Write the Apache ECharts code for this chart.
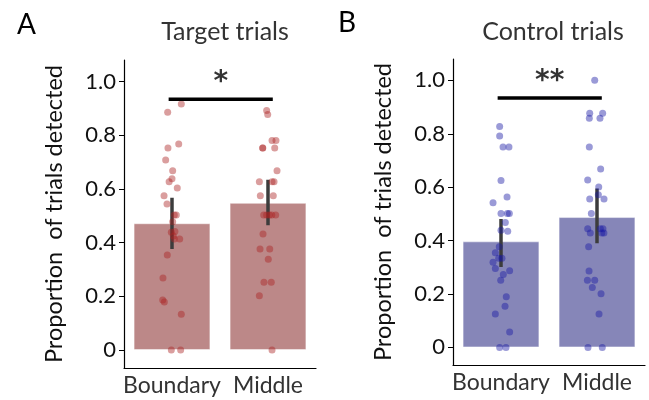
<!DOCTYPE html>
<html><head><meta charset="utf-8">
<script src="https://cdn.jsdelivr.net/npm/echarts@6/dist/echarts.min.js"></script>
<style>html,body{margin:0;padding:0;background:#fff}#c{width:649px;height:400px}</style>
</head><body><div id="c"></div>
<script>
const categories = ['Boundary', 'Middle'];
const panelTitles = ['Target trials', 'Control trials'];
const panelLetters = ['A', 'B'];
const yAxisName = 'Proportion  of trials detected';

const targetMeans = [0.472, 0.548];
const targetErrLow = [0.376, 0.465];
const targetErrHigh = [0.567, 0.634];
const controlMeans = [0.397, 0.488];
const controlErrLow = [0.301, 0.390];
const controlErrHigh = [0.481, 0.595];

const targetBoundaryY = [0.916,0.885,0.767,0.752,0.708,0.668,0.638,0.627,0.603,0.574,0.544,0.503,0.503,0.478,0.439,0.441,0.425,0.413,0.413,0.354,0.268,0.186,0.179,0.133,0,0];
const targetBoundaryX = [0.097,-0.045,0.07,-0.042,-0.066,0.007,0,-0.03,0.055,-0.083,-0.052,0.024,0.045,0.007,-0.007,0.03,0.014,0.024,0.08,-0.049,-0.094,-0.097,-0.08,0.097,-0.007,0.09];
const targetMiddleY = [0.892,0.877,0.780,0.780,0.752,0.752,0.752,0.668,0.627,0.627,0.627,0.574,0.574,0.503,0.503,0.503,0.503,0.503,0.432,0.376,0.376,0.338,0.252,0.252,0.202,0];
const targetMiddleX = [-0.014,-0.003,0.042,0.083,-0.055,-0.055,0.07,0.094,-0.09,0.042,0.063,-0.08,0.055,-0.045,-0.014,0.014,0.039,0.08,-0.052,-0.083,0.018,0.003,-0.042,0.034,-0.09,0.042];
const controlBoundaryY = [0.827,0.792,0.75,0.75,0.625,0.563,0.542,0.501,0.501,0.501,0.468,0.439,0.435,0.377,0.354,0.334,0.334,0.319,0.295,0.287,0.273,0.251,0.19,0.154,0.125,0.058,0,0];
const controlBoundaryX = [-0.014,-0.014,0.021,0.083,0,0.063,-0.083,0,0.066,0.087,0.045,0,0.07,-0.018,-0.059,-0.024,0.01,-0.083,-0.059,0.09,0.024,-0.003,0.055,0.042,-0.059,0.09,-0.014,0.052];
const controlMiddleY = [1.0,0.877,0.877,0.858,0.858,0.75,0.668,0.627,0.601,0.572,0.556,0.556,0.501,0.444,0.428,0.444,0.444,0.428,0.428,0.377,0.286,0.251,0.251,0.224,0.201,0.125,0,0];
const controlMiddleX = [-0.024,-0.076,0.059,-0.08,0.031,-0.08,0.038,-0.097,0.018,0.014,-0.076,0.073,-0.059,-0.097,-0.07,0.035,0.062,0.05,0.072,-0.087,-0.083,-0.1,-0.024,-0.049,0.042,0.021,-0.094,0.055];

const yTickValues = [0, 0.2, 0.4, 0.6, 0.8, 1.0];
const sigY = 0.934;
const sigX = [-0.035, 1.05];
const sigLabels = ['*', '**'];

const FONT = 'Lato';
const barColors = ['#bc8888', '#8686b8'];
const dotColors = ['rgba(170,35,35,0.55)', 'rgba(25,25,165,0.55)'];

function pts(xs, ys, cat) { return ys.map((y, i) => [cat + xs[i], y]); }

const grids = [
  { left: 124, width: 192, top: 60, height: 308 },
  { left: 453, width: 192, top: 59, height: 306 }
];
const yMins = [-0.067, -0.066];

const xAxis = [], yAxis = [], series = [];
grids.forEach((g, k) => {
  xAxis.push({
    type: 'category', gridIndex: k, data: categories,
    axisLine: { onZero: false, lineStyle: { color: '#000', width: 1.2 } },
    axisTick: { alignWithLabel: true, length: 5, lineStyle: { color: '#000' } },
    axisLabel: { interval: 0, color: '#333', fontSize: 23, fontFamily: FONT, margin: 6 }
  });
  yAxis.push({
    type: 'value', gridIndex: k, min: yMins[k], max: 1.08,
    axisLine: { show: true, onZero: false, lineStyle: { color: '#000', width: 1.2 } },
    axisTick: { show: true, length: 5, lineStyle: { color: '#000' }, customValues: yTickValues },
    splitLine: { show: false },
    axisLabel: {
      color: '#111', fontSize: 22, fontFamily: FONT, margin: 8,
      customValues: yTickValues,
      formatter: v => Math.abs(v) < 1e-9 ? '0' : v.toFixed(1)
    },
    name: yAxisName, nameLocation: 'middle', nameGap: 58,
    nameTextStyle: { color: '#111', fontSize: 23.5, fontFamily: FONT }
  });
});
// hidden value x-axes for dots, error bars and significance lines
grids.forEach((g, k) => {
  xAxis.push({ type: 'value', gridIndex: k, min: -0.5, max: 1.5, show: false, axisLine: { onZero: false } });
});

const groups = [
  { means: targetMeans, lo: targetErrLow, hi: targetErrHigh, dots: [pts(targetBoundaryX, targetBoundaryY, 0), pts(targetMiddleX, targetMiddleY, 1)] },
  { means: controlMeans, lo: controlErrLow, hi: controlErrHigh, dots: [pts(controlBoundaryX, controlBoundaryY, 0), pts(controlMiddleX, controlMiddleY, 1)] }
];

groups.forEach((gr, k) => {
  series.push({
    type: 'bar', xAxisIndex: k, yAxisIndex: k, data: gr.means, barWidth: '80%',
    itemStyle: { color: barColors[k], borderColor: 'rgba(255,255,255,0.45)', borderWidth: 1 },
    z: 1, silent: true
  });
  categories.forEach((c, i) => {
    series.push({
      type: 'line', xAxisIndex: 2 + k, yAxisIndex: k,
      data: [[i, gr.lo[i]], [i, gr.hi[i]]], symbol: 'none',
      lineStyle: { color: '#3c3c3c', width: 3.5 }, z: 3, silent: true
    });
  });
  series.push({
    type: 'scatter', xAxisIndex: 2 + k, yAxisIndex: k,
    data: gr.dots[0].concat(gr.dots[1]), symbolSize: 7,
    itemStyle: { color: dotColors[k] }, z: 4, silent: true
  });
  series.push({
    type: 'line', xAxisIndex: 2 + k, yAxisIndex: k,
    data: [[sigX[0], sigY], [sigX[1], sigY]], symbol: 'none',
    lineStyle: { color: '#000', width: 3.5 }, z: 5, silent: true
  });
  series.push({
    type: 'scatter', xAxisIndex: 2 + k, yAxisIndex: k,
    data: [[(sigX[0] + sigX[1]) / 2, sigY]], symbolSize: 0,
    label: { show: true, position: 'top', distance: 2, formatter: sigLabels[k], fontSize: 28, fontWeight: 'bold', color: '#000', fontFamily: 'DejaVu Sans' },
    z: 5, silent: true
  });
});

const chart = echarts.init(document.getElementById('c'), null, { renderer: 'canvas' });
chart.setOption({
  animation: false,
  backgroundColor: '#fff',
  title: [
    { text: panelLetters[0], left: 12, top: 6, textStyle: { fontSize: 28, fontWeight: 'normal', color: '#000', fontFamily: FONT } },
    { text: panelLetters[1], left: 333, top: 4, textStyle: { fontSize: 28, fontWeight: 'normal', color: '#000', fontFamily: FONT } },
    { text: panelTitles[0], left: 220, top: 14, textAlign: 'center', textStyle: { fontSize: 25, fontWeight: 'normal', color: '#333', fontFamily: FONT } },
    { text: panelTitles[1], left: 548, top: 14, textAlign: 'center', textStyle: { fontSize: 25, fontWeight: 'normal', color: '#333', fontFamily: FONT } }
  ],
  grid: grids,
  xAxis: xAxis,
  yAxis: yAxis,
  series: series
});
</script>
</body></html>
